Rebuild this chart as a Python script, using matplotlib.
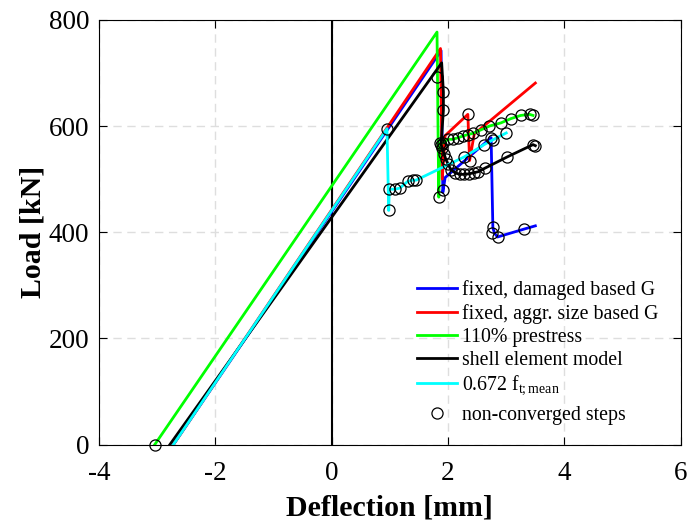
import matplotlib.pyplot as plt
from matplotlib.lines import Line2D

plt.rcParams['font.family'] = ['Liberation Serif', 'DejaVu Serif']
plt.rcParams['mathtext.fontset'] = 'custom'
plt.rcParams['mathtext.rm'] = 'Liberation Serif'
plt.rcParams['mathtext.it'] = 'Liberation Serif:italic'
plt.rcParams['axes.unicode_minus'] = False

# load-deflection paths (deflection [mm], load [kN])
blue_x = [-2.72, 1.88, 1.91, 1.95, 2.74, 2.77, 2.80, 2.85, 3.31, 3.50]
blue_y = [0, 742, 475, 503, 578, 408, 398, 391, 406, 412]
blue_cx = [1.92, 2.74, 2.77, 2.76, 2.85, 3.31]
blue_cy = [480, 578, 410, 398, 391, 406]

red_x = [-2.72, 1.87, 1.90, 1.95, 2.34, 2.37, 2.45, 3.50]
red_y = [0, 746, 500, 582, 622, 535, 585, 681]
red_cx = [2.34, 2.37]
red_cy = [622, 535]

green_x = [-3.04, 1.81, 1.84, 1.86, 1.91, 2.00, 2.08, 2.17, 2.25, 2.34, 2.42,
           2.57, 2.71, 2.91, 3.08, 3.25, 3.40, 3.46]
green_y = [0, 777, 466, 568, 568, 575, 575, 578, 581, 584, 586,
           593, 600, 606, 614, 620, 622, 620]
green_cx = [-3.04, 1.81] + green_x[2:]
green_cy = [0, 693] + green_y[2:]

black_x = [-2.78, 1.89, 1.92, 1.92, 1.88, 1.90, 1.93, 1.96, 2.00, 2.05, 2.12,
           2.20, 2.28, 2.36, 2.44, 2.52, 2.64, 3.02, 3.46, 3.50]
black_y = [0, 719, 664, 630, 565, 558, 548, 538, 528, 518, 512,
           509, 509, 510, 512, 514, 521, 542, 565, 563]
black_cx = black_x[2:]
black_cy = black_y[2:]

cyan_x = [-2.72, 0.95, 0.98, 0.99, 1.08, 1.17, 1.31, 1.39, 1.45, 2.28, 2.62, 2.77, 3.00]
cyan_y = [0, 595, 441, 481, 481, 483, 496, 498, 498, 542, 565, 574, 587]
cyan_cx = cyan_x[1:]
cyan_cy = cyan_y[1:]

labels = ['fixed, damaged based G', 'fixed, aggr. size based G', '110% prestress',
          'shell element model', r'0.672 f$_{\mathrm{t;mean}}$']

fig = plt.figure(figsize=(6.87, 5.23), dpi=100)
ax = fig.add_axes([0.144, 0.150, 0.847, 0.812])

ax.axvline(0, color='k', lw=1.5, zorder=1)

series = [(blue_x, blue_y, '#0000ff'), (red_x, red_y, '#ff0000'),
          (green_x, green_y, '#00ff00'), (black_x, black_y, '#000000'),
          (cyan_x, cyan_y, '#00ffff')]
line_handles = []
for (x, y, c), lab in zip(series, labels):
    h, = ax.plot(x, y, color=c, lw=2, label=lab, zorder=2)
    line_handles.append(h)

circ_x = blue_cx + red_cx + green_cx + black_cx + cyan_cx
circ_y = blue_cy + red_cy + green_cy + black_cy + cyan_cy
circ, = ax.plot(circ_x, circ_y, 'o', ls='none', mfc='none', mec='k', mew=0.9, ms=8,
                zorder=3, clip_on=False)

ax.set_xlim(-4, 6)
ax.set_ylim(0, 800)
ax.set_xticks([-4, -2, 0, 2, 4, 6])
ax.set_yticks([0, 200, 400, 600, 800])
ax.grid(True, color='#dedede', ls=(0, (6, 4)), lw=1)
ax.set_axisbelow(True)
ax.tick_params(direction='in', top=True, right=True, labelsize=19.5, length=6)
ax.tick_params(axis='x', pad=12)
ax.tick_params(axis='y', pad=7)
for s in ax.spines.values():
    s.set_linewidth(0.8)

ax.set_xlabel('Deflection [mm]', fontsize=21.5, fontweight='bold')
ax.set_ylabel('Load [kN]', fontsize=21.5, fontweight='bold')
ax.xaxis.set_label_coords(0.5, -0.118)
ax.yaxis.set_label_coords(-0.090, 0.5)

# legend: line entries, then the marker entry a bit lower (subscript row)
leg_kw = dict(loc='upper left', bbox_transform=fig.transFigure, frameon=False,
              fontsize=14.3, handlelength=2.0, handletextpad=0.25, borderpad=0,
              borderaxespad=0, labelspacing=0.2)
leg1 = ax.legend(handles=line_handles, bbox_to_anchor=(417 / 687, 1 - 280 / 523), **leg_kw)
ax.add_artist(leg1)
marker_handle = Line2D([], [], marker='o', ls='none', mfc='none', mec='k', mew=0.9, ms=8)
ax.legend(handles=[marker_handle], labels=['non-converged steps'],
          bbox_to_anchor=(417 / 687, 1 - 406 / 523), **leg_kw)

fig.savefig('out.png', dpi=100)
